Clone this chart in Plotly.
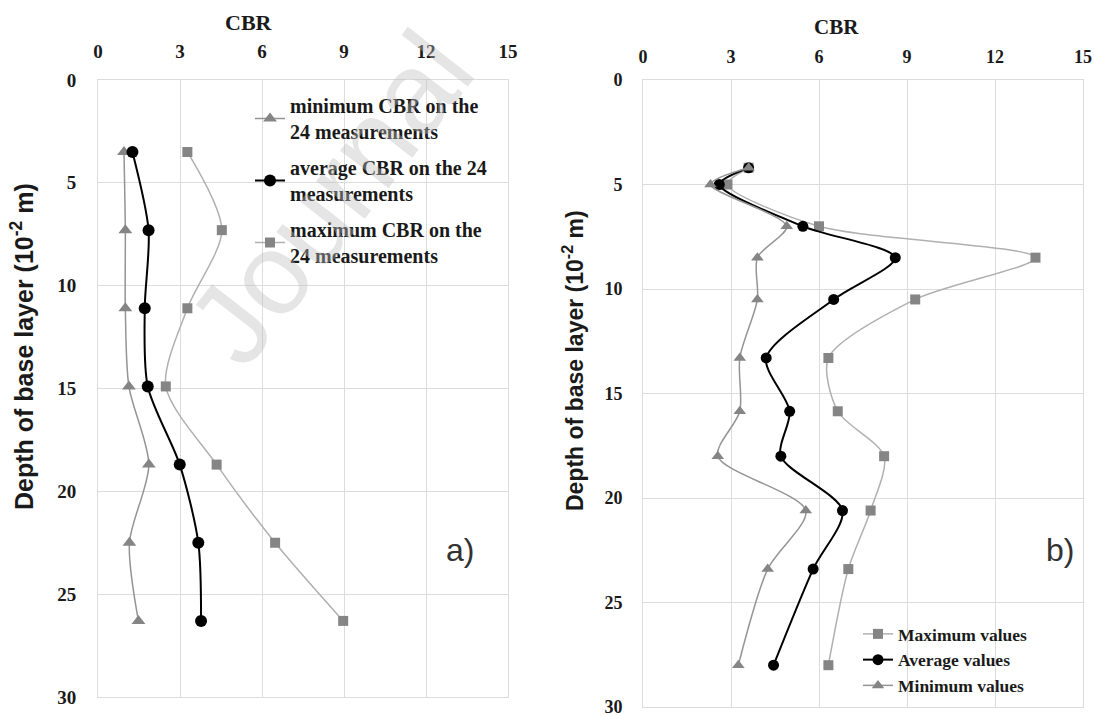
import plotly.graph_objects as go

# ---------------- data ----------------
depth_a = [3.5, 7.3, 11.1, 14.9, 18.7, 22.5, 26.3]
min_a = [0.95, 1.0, 1.0, 1.13, 1.86, 1.15, 1.48]
avg_a = [1.26, 1.85, 1.71, 1.82, 2.99, 3.67, 3.77]
max_a = [3.27, 4.53, 3.27, 2.48, 4.34, 6.48, 8.97]

depth_b = [4.2, 5.0, 7.0, 8.5, 10.5, 13.3, 15.85, 18.0, 20.6, 23.4, 28.0]
max_b = [3.6, 2.88, 6.0, 13.38, 9.28, 6.32, 6.64, 8.22, 7.76, 7.0, 6.32]
avg_b = [3.6, 2.6, 5.45, 8.6, 6.5, 4.2, 5.0, 4.7, 6.8, 5.8, 4.45]
min_b = [3.6, 2.3, 4.9, 3.9, 3.9, 3.3, 3.3, 2.55, 5.55, 4.25, 3.25]

names_a = ["minimum CBR on the<br>24 measurements",
           "average CBR on the 24<br>measurements",
           "maximum CBR on the<br>24 measurements"]
names_b = ["Maximum values", "Average values", "Minimum values"]

x_ticks = [0, 3, 6, 9, 12, 15]
y_ticks = [0, 5, 10, 15, 20, 25, 30]

W, H = 1094, 716

def px(x):
    return x / W

def py(y):
    return 1 - y / H

MIN_LINE = "#949494"
MAX_LINE = "#b0b0b0"
MARK_GRAY = "#858585"
BLACK = "#000000"

fig = go.Figure()

def add(x, y, name, line_color, mcolor, symbol, size, xa, ya, legend, group, width=1.5):
    fig.add_trace(go.Scatter(
        x=x, y=y, name=name, mode="lines+markers",
        line=dict(color=line_color, width=width, shape="spline", smoothing=0.8),
        marker=dict(symbol=symbol, size=size, color=mcolor),
        xaxis=xa, yaxis=ya, legend=legend, legendgroup=group,
    ))

# panel a
add(min_a, depth_a, names_a[0], MIN_LINE, MARK_GRAY, "triangle-up", 12, "x", "y", "legend", "a1")
add(avg_a, depth_a, names_a[1], BLACK, BLACK, "circle", 12, "x", "y", "legend", "a2", 2)
add(max_a, depth_a, names_a[2], MAX_LINE, MARK_GRAY, "square", 10, "x", "y", "legend", "a3")

# panel b
add(max_b, depth_b, names_b[0], MAX_LINE, MARK_GRAY, "square", 10, "x2", "y2", "legend2", "b1")
add(avg_b, depth_b, names_b[1], BLACK, BLACK, "circle", 11, "x2", "y2", "legend2", "b2", 2)
add(min_b, depth_b, names_b[2], MIN_LINE, MARK_GRAY, "triangle-up", 11, "x2", "y2", "legend2", "b3")

grid = "#dcdcdc"

def tfont(size):
    return dict(family="Liberation Serif", size=size, color="#1a1a1a", weight="bold")

def xaxis(domain, anchor, size, standoff):
    return dict(domain=domain, anchor=anchor, side="top", range=[0, 15],
                tickvals=x_ticks, ticktext=[str(v) for v in x_ticks],
                showgrid=True, gridcolor=grid, gridwidth=1, zeroline=False,
                showline=True, linecolor=grid, linewidth=1, mirror=True,
                ticks="", ticklabelstandoff=standoff, tickfont=tfont(size),
                ticklabeloverflow="allow", automargin=False)

def yaxis(domain, anchor, size, standoff):
    return dict(domain=domain, anchor=anchor, range=[30, 0],
                tickvals=y_ticks, ticktext=[str(v) for v in y_ticks],
                showgrid=True, gridcolor=grid, gridwidth=1, zeroline=False,
                showline=True, linecolor=grid, linewidth=1, mirror=True,
                ticks="", ticklabelstandoff=standoff, tickfont=tfont(size),
                ticklabeloverflow="allow", automargin=False)

fig.update_layout(
    width=W, height=H,
    margin=dict(l=0, r=0, t=0, b=0),
    paper_bgcolor="white", plot_bgcolor="white",
    xaxis=xaxis([px(98), px(508)], "y", 19, 13),
    yaxis=yaxis([py(697), py(80)], "x", 19, 17),
    xaxis2=xaxis([px(643), px(1083)], "y2", 18, 9),
    yaxis2=yaxis([py(707), py(80)], "x2", 18, 16),
    legend=dict(x=px(250), y=py(86), xanchor="left", yanchor="top",
                bgcolor="rgba(0,0,0,0)", traceorder="grouped", tracegroupgap=7,
                font=dict(family="Liberation Serif", size=20, color="#1a1a1a", weight="bold"),
                itemwidth=30),
    legend2=dict(x=px(858), y=py(616), xanchor="left", yanchor="top",
                 bgcolor="rgba(0,0,0,0)", traceorder="grouped", tracegroupgap=0,
                 font=dict(family="Liberation Serif", size=17.5, color="#1a1a1a", weight="bold"),
                 itemwidth=30),
    showlegend=True,
)

def ann(text, x, y, size, family, angle=0, color="#1a1a1a", weight="bold"):
    fig.add_annotation(text=text, x=px(x), y=py(y),
                       xref="paper", yref="paper", showarrow=False,
                       textangle=angle,
                       font=dict(family=family, size=size, color=color, weight=weight),
                       xanchor="center", yanchor="middle")

ann("CBR", 249, 23, 22, "Liberation Serif")
ann("CBR", 836, 27, 21, "Liberation Serif")
ann("Depth of base layer (10<sup>-2</sup> m)", 22, 347, 25, "Liberation Sans", -90)
ann("Depth of base layer (10<sup>-2</sup> m)", 573, 361, 23, "Liberation Sans", -90)
ann("a)", 460, 550, 32, "Liberation Sans", color="#333333", weight="normal")
ann("b)", 1060, 550, 32, "Liberation Sans", color="#333333", weight="normal")

# faint watermark of the source page
fig.add_annotation(text="Journal", x=px(330), y=py(198), xref="paper", yref="paper",
                   showarrow=False, textangle=-52, xanchor="center", yanchor="middle",
                   font=dict(family="Liberation Sans", size=116, color="rgba(190,190,190,0.4)"))

# place the figure at the window's top-left corner (no default body margin)
fig.write_html("out.html", config={"displayModeBar": False},
               post_script="document.body.style.margin='0';")
